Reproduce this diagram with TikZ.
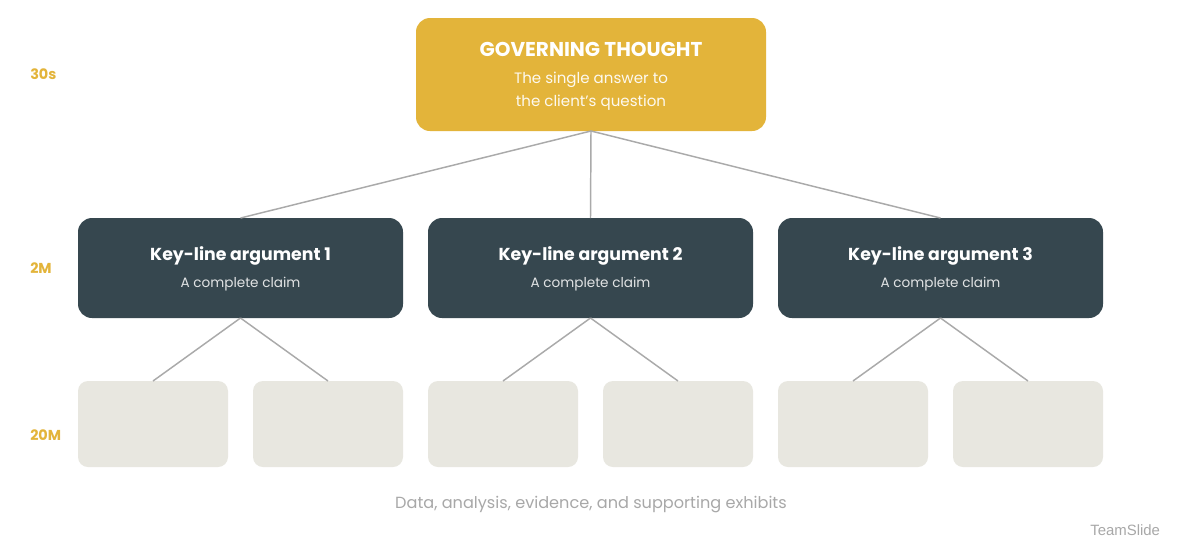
\documentclass[tikz,border=0pt]{standalone}
\usepackage{fontspec}
\setmainfont{Poppins}
\newfontfamily\tsfont{Liberation Sans}
\definecolor{gold}{HTML}{E3B43A}
\definecolor{slate}{HTML}{36474F}
\definecolor{pale}{HTML}{E8E7E0}
\definecolor{conn}{HTML}{AAAAAA}
\definecolor{foot}{HTML}{A8A8A8}
\begin{document}
\begin{tikzpicture}[x=0.75pt,y=-0.75pt,
  govbox/.style={fill=gold, rounded corners=10.5pt},
  argbox/.style={fill=slate, rounded corners=10.5pt},
  leafbox/.style={fill=pale, rounded corners=7.5pt},
  link/.style={draw=conn, line width=1.1pt},
  lvl/.style={text=gold, font=\fontsize{10.8}{12}\selectfont\bfseries, anchor=west, inner sep=0pt},
]
\useasboundingbox[fill=white] (0,0) rectangle (1183,547);
% governing thought
\path[govbox] (416,18) rectangle (766,131);
\coordinate (gov) at (591,131);
\node[text=white, font=\fontsize{15}{17}\selectfont\bfseries, inner sep=0pt] (govt) at (591,49.5) {GOVERNING THOUGHT};
\node[text=white!92!gold, font=\fontsize{11.3}{17.2}\selectfont, align=center, inner sep=0pt] (govs) at (591,91) {The single answer to\\the client’s question};
% key-line arguments
\foreach \i/\x in {1/78,2/428,3/778}{
  \path[argbox] (\x,218) rectangle ++(325,100);
  \coordinate (a\i t) at (\x+162.5,218);
  \coordinate (a\i b) at (\x+162.5,318);
  \node[text=white, font=\fontsize{13}{15}\selectfont\bfseries, inner sep=0pt] (a\i n) at (\x+162.5,256) {Key-line argument \i};
  \node[text=white!85!slate, font=\fontsize{10.2}{12}\selectfont, inner sep=0pt] (a\i c) at (\x+162.5,284.5) {A complete claim};
  \path[leafbox] (\x,381) rectangle ++(150,86);
  \path[leafbox] (\x+175,381) rectangle ++(150,86);
  \coordinate (l\i a) at (\x+75,381);
  \coordinate (l\i b) at (\x+250,381);
  \draw[link] (gov) -- (a\i t);
  \draw[link] (a\i b) -- (l\i a);
  \draw[link] (a\i b) -- (l\i b);
}
% level labels
\node[lvl] (t30) at (30,74) {30s};
\node[lvl] (t2m) at (30,268) {2M};
\node[lvl] (t20m) at (30,435) {20M};
% footer
\node[text=foot, font=\fontsize{12.1}{15}\selectfont, inner sep=0pt] (foot) at (591,505) {Data, analysis, evidence, and supporting exhibits};
\node[text=foot, font=\tsfont\fontsize{11.2}{13}\selectfont, inner sep=0pt, anchor=west] (brand) at (1090,530) {TeamSlide};
\end{tikzpicture}
\end{document}
